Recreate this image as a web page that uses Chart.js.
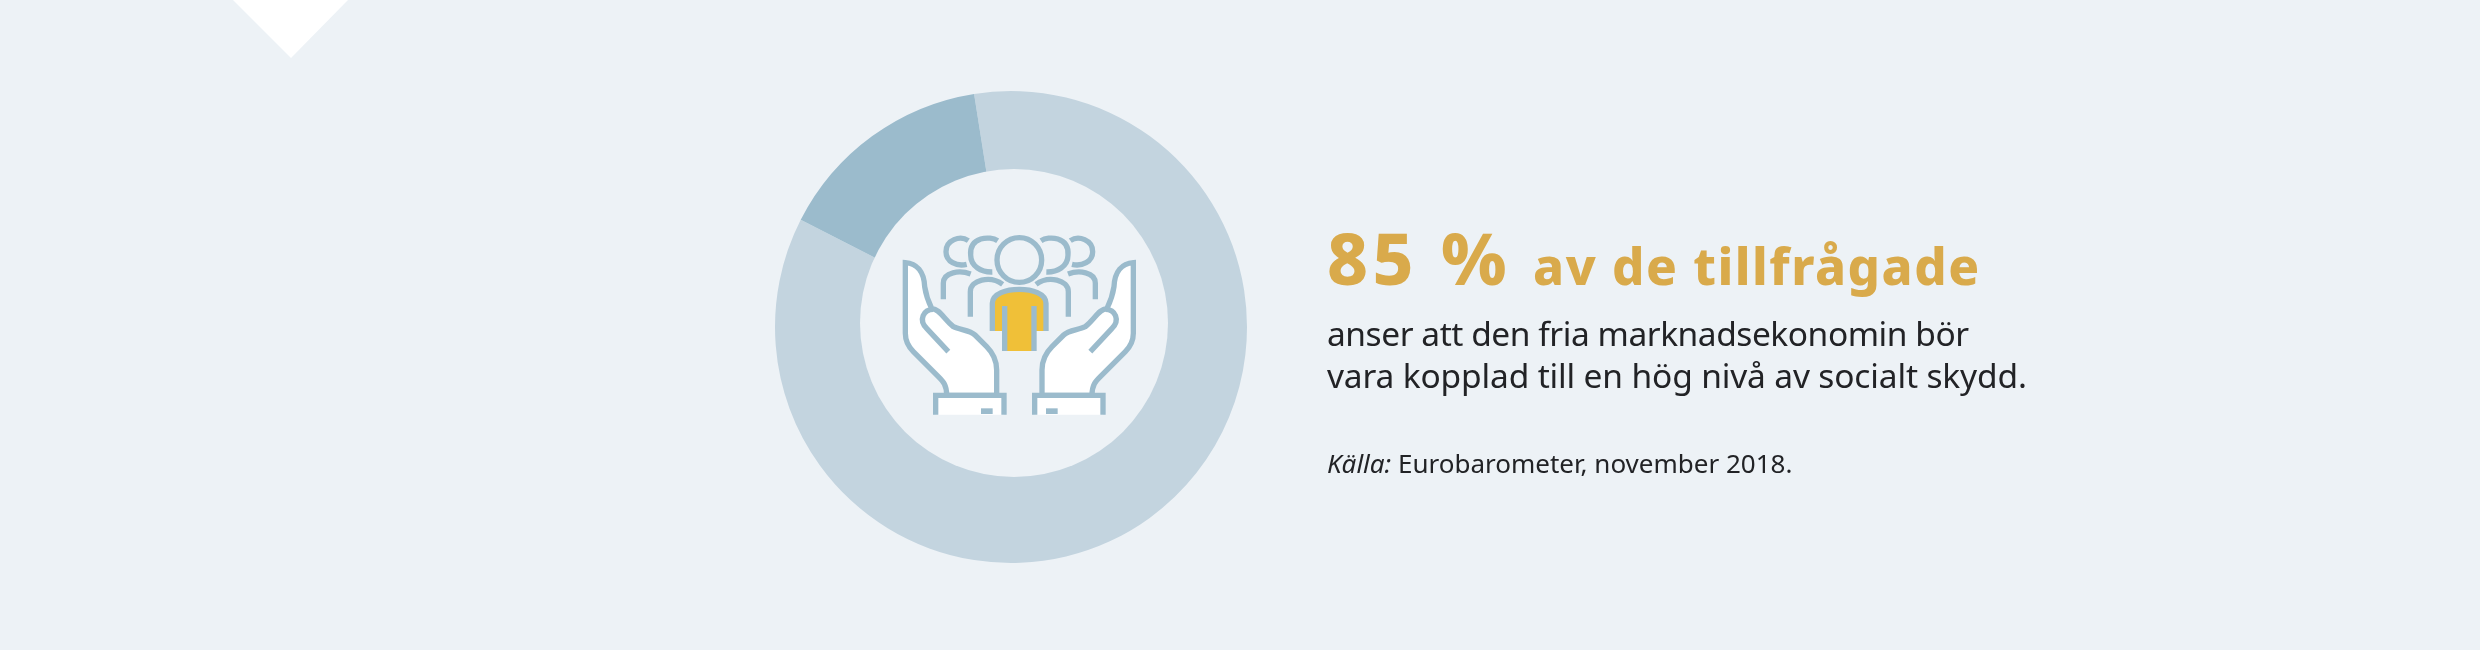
<!DOCTYPE html>
<html lang="sv">
<head>
<meta charset="utf-8">
<title>85 % av de tillfrågade</title>
<script src="https://cdn.jsdelivr.net/npm/chart.js@4"></script>
<style>
  html, body { margin: 0; padding: 0; background: #edf2f6; }
  body { position: relative; width: 2480px; height: 650px; overflow: hidden; font-family: "Noto Sans", sans-serif; }
  #donut { position: absolute; left: 0; top: 0; }
  #arrow { position: absolute; left: 0; top: 0; }
  #icon { position: absolute; left: 760px; top: 70px; }
  .txt { position: absolute; left: 1327px; white-space: nowrap; line-height: 1; color: #222326; }
  #rubrik { top: 222px; left: 1327px; font-weight: 800; color: #d9aa4b; font-size: 51px; letter-spacing: 1.5px; }
  #rubrik b { font-weight: 800; font-size: 71px; letter-spacing: 4.5px; margin-right: 22px; }
  #rad1 { top: 317px; font-size: 33.5px; letter-spacing: -0.45px; }
  #rad2 { top: 359px; font-size: 33.5px; letter-spacing: -0.15px; }
  #kalla { top: 450px; font-size: 26px; letter-spacing: 0; }
</style>
</head>
<body>
<svg id="arrow" width="400" height="70"><polygon points="233,0 348,0 291,58" fill="#fff"/></svg>
<canvas id="donut" width="2480" height="650"></canvas>

<svg id="icon" width="520" height="510" viewBox="0 0 1560 1530" fill="none" stroke="#9bbbcc" stroke-width="16">
  <defs>
    <g id="hand">
      <path fill="#fff" d="M436 578 C470 580 492 605 494 650 C497 670 505 695 515 715 C540 718 550 745 580 770 C600 780 630 780 645 795 L680 830 C700 850 710 870 710 900 L710 976 L560 976 C560 945 550 935 535 920 L460 845 C445 830 436 810 436 790 Z"/>
      <path d="M565 845 L500 775 C475 750 490 718 520 718"/>
      <path fill="#fff" d="M527 1034 L527 976 L732 976 L732 1034"/>
      <rect x="663" y="1015" width="35" height="17" fill="#9bbbcc" stroke="none"/>
      <path d="M713 512 C690 497 628 500 632 555 C632 590 665 607 697 606"/>
      <path d="M625 512 C600 495 558 510 558 545 C558 575 590 590 620 583"/>
      <path d="M631 740 L631 665 C631 630 690 615 728 643"/>
      <path d="M550 688 L550 640 C550 605 600 600 632 612"/>
    </g>
  </defs>
  <use href="#hand"/>
  <use href="#hand" transform="translate(1556 0) scale(-1 1)"/>
  <circle cx="778" cy="570" r="67"/>
  <path fill="#f0c038" stroke="none" d="M697 783 L697 700 C697 670 740 658 778 658 C816 658 858 670 858 700 L858 783 L822 783 L822 843 L734 843 L734 783 Z"/>
  <path d="M697 783 L697 700 C697 670 740 658 778 658 C816 658 858 670 858 700 L858 783"/>
  <path d="M734 708 L734 843 M822 708 L822 843"/>
</svg>

<div class="txt" id="rubrik"><b>85 %</b>av de tillfrågade</div>
<div class="txt" id="rad1">anser att den fria marknadsekonomin bör</div>
<div class="txt" id="rad2">vara kopplad till en hög nivå av socialt skydd.</div>
<div class="txt" id="kalla"><i>Källa:</i> Eurobarometer, november 2018.</div>

<script>
const categories = ['Anser', 'Övriga'];
const values = [85, 15];
const sliceColors = ['#c3d4df', '#9bbbcc'];

// the hole in the original sits a few pixels off the ring's centre
const holePlugin = {
    id: 'hole',
    afterDatasetsDraw(chart) {
        const arc = chart.getDatasetMeta(0).data[0];
        const ctx = chart.ctx;
        ctx.save();
        ctx.fillStyle = '#edf2f6';
        ctx.beginPath();
        ctx.arc(arc.x + 3, arc.y - 4, 154, 0, Math.PI * 2);
        ctx.fill();
        ctx.restore();
    }
};

new Chart(document.getElementById('donut'), {
    type: 'doughnut',
    data: {
        labels: categories,
        datasets: [{ data: values, backgroundColor: sliceColors, borderWidth: 0 }]
    },
    options: {
        responsive: false,
        animation: false,
        cutout: '60%',
        rotation: -9,
        layout: { padding: { left: 775, right: 1233, top: 91, bottom: 87 } },
        plugins: { legend: { display: false }, tooltip: { enabled: false } }
    },
    plugins: [holePlugin]
});
</script>
</body>
</html>
